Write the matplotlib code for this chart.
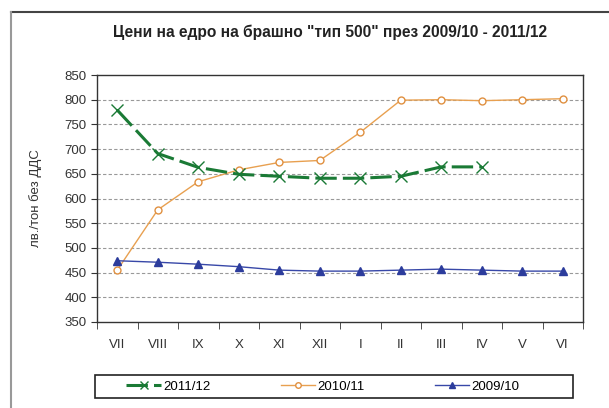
import matplotlib
matplotlib.use('Agg')
import matplotlib.pyplot as plt
from matplotlib.lines import Line2D
from matplotlib.patches import Rectangle
import numpy as np

months = ['VII', 'VIII', 'IX', 'X', 'XI', 'XII', 'I', 'II', 'III', 'IV', 'V', 'VI']
s2011 = [779, 691, 663, 649, 645, 641, 641, 645, 664, 664, np.nan, np.nan]
s2010 = [455, 577, 634, 658, 673, 677, 734, 799, 800, 798, 800, 802]
s2009 = [474, 471, 467, 462, 455, 453, 453, 455, 457, 455, 453, 453]

plt.rcParams['font.family'] = ['Liberation Sans', 'DejaVu Sans']

fig = plt.figure(figsize=(6.09, 4.08), dpi=100)
W, H = 609., 408.
ax = fig.add_axes([97 / W, 1 - 322 / H, 486 / W, 247 / H])

# outer chart frame (only top and left edges are visible)
fig.add_artist(Line2D([11 / W, 1], [1 - 12 / H, 1 - 12 / H], color='#444444', lw=1.5))
fig.add_artist(Line2D([11 / W, 11 / W], [0, 1 - 12 / H], color='#999999', lw=1.5))

x = np.arange(len(months))
g, = ax.plot(x, s2011, color='#1a7a35', lw=2.2, dashes=(7, 2), marker='x', ms=8,
             mew=1, label='2011/12', zorder=4)
o, = ax.plot(x, s2010, color='#e8a050', lw=1, marker='o', ms=5, mfc='white',
             mec='#e09040', mew=1, label='2010/11', zorder=3)
b, = ax.plot(x, s2009, color='#3848a8', lw=1, marker='^', ms=6, mfc='#2c3c9c',
             mec='#2c3c9c', label='2009/10', zorder=3)

ax.set_xlim(-0.5, 11.5)
ax.set_ylim(350, 850)
ax.set_yticks(range(350, 851, 50))
ax.set_xticks(x)
ax.set_xticklabels(months, fontsize=9.5, color='#333333')
ax.set_xticks(np.arange(-0.5, 12, 1), minor=True)
ax.tick_params(axis='x', which='major', length=0, pad=12)
ax.tick_params(axis='x', which='minor', length=5, direction='out', color='#333333')
ax.tick_params(axis='y', length=4, direction='out', labelsize=9.5, labelcolor='#333333',
               color='#333333')
for v in range(400, 801, 50):
    ax.axhline(v, color='#999999', lw=0.8, ls=(0, (3, 2)), zorder=1)
for sp in ax.spines.values():
    sp.set_color('#333333')
    sp.set_linewidth(1)

ax.set_ylabel('лв./тон без ДДС', fontsize=9.5, color='#333333', labelpad=16)
fig.text(330 / W, 1 - 32 / H, 'Цени на едро на брашно "тип 500" през 2009/10 - 2011/12',
         ha='center', va='center', fontsize=11.2, fontweight='bold', color='#222222')

# legend box
fig.add_artist(Rectangle((95 / W, 1 - 398 / H), 478 / W, 23 / H, transform=fig.transFigure,
                         fill=False, edgecolor='#222222', lw=1.2))
fig.legend(handles=[g, o, b], loc='center', ncol=3,
           bbox_to_anchor=(323 / W, 1 - 386.5 / H),
           fontsize=9.5, frameon=False, markerscale=0.8,
           handlelength=2.6, columnspacing=5.3, handletextpad=0.2)

plt.savefig('out.png', dpi=100)
